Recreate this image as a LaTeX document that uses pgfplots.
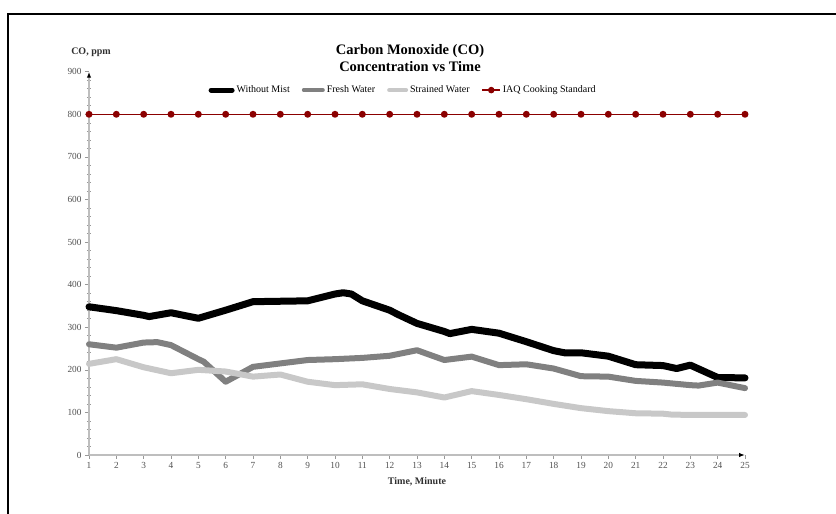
\documentclass[border=0pt]{standalone}
\usepackage{fontspec}
\setmainfont{Liberation Serif}
\usepackage{pgfplots}
\pgfplotsset{compat=1.18}
\usetikzlibrary{arrows.meta}
\definecolor{iaqred}{RGB}{139,0,0}
\definecolor{freshgray}{RGB}{128,128,128}
\definecolor{strainedgray}{RGB}{200,200,200}
\definecolor{axisgray}{RGB}{190,190,190}
\definecolor{labelgray}{RGB}{80,80,80}
\begin{document}
\begin{tikzpicture}
\useasboundingbox (0pt,0pt) rectangle (836pt,514pt);
\draw[line width=2pt] (8pt,-20pt) -- (8pt,500pt) -- (900pt,500pt);
\begin{axis}[
  at={(89pt,59pt)}, anchor=south west,
  scale only axis, width=656pt, height=383.3pt,
  xmin=1, xmax=25, ymin=0, ymax=900,
  axis lines=left,
  axis line style={draw=axisgray, line width=1.2pt, -{Latex[length=6pt,width=4.5pt,color=black]}},
  xtick={1,...,25}, ytick={0,100,...,900},
  minor y tick num=4,
  tick style={draw=axisgray!80!black, line width=0.6pt},
  major tick length=4pt, minor tick length=4pt,
  minor y tick style={xshift=2pt},
  tick align=outside,
  ticklabel style={font=\fontsize{9.3}{10}\selectfont, text=labelgray},
  /pgf/number format/assume math mode=true,
  clip=false,
  legend columns=4,
  legend style={draw=none, fill=none, at={(0.182,0.952)}, anchor=west,
    font=\fontsize{10}{12}\selectfont, inner sep=0pt,
    /tikz/every even column/.append style={column sep=10pt}},
  legend cell align=left,
  line join=round,
]
\addplot[black, line width=7pt, line cap=round, legend image code/.code={\draw[black, line width=5pt, line cap=round] (2pt,0pt) -- (23pt,0pt);}] coordinates {
(1,348)(2,339)(3,328)(3.2,325)(4,334)(5,321)(6,340)(7,360)(8,361)(9,362)(10,378)(10.3,381)(10.6,378)(11,362)(12,340)(12.3,330)(13,309)(14,290)(14.2,285)(15,295)(16,286)(17,266)(18,245)(18.4,240)(19,240)(20,232)(21,212)(22,210)(22.5,203)(23,211)(24,182)(25,181)
};
\addlegendentry{Without Mist}
\addplot[freshgray, line width=6pt, line cap=round, legend image code/.code={\draw[freshgray, line width=4pt, line cap=round] (2pt,0pt) -- (21pt,0pt);}] coordinates {
(1,260)(2,252)(3,264)(3.5,265)(4,258)(5,225)(5.2,219)(6,172)(7,207)(8,215)(9,223)(10,225)(11,228)(12,233)(13,246)(14,223)(15,231)(16,211)(17,213)(18,203)(19,185)(20,184)(21,174)(22,170)(23,164)(23.3,163)(24,170)(25,157)
};
\addlegendentry{Fresh Water}
\addplot[strainedgray, line width=6pt, line cap=round, legend image code/.code={\draw[strainedgray, line width=4pt, line cap=round] (2pt,0pt) -- (19pt,0pt);}] coordinates {
(1,214)(2,225)(3,206)(4,192)(5,200)(6,196)(7,184)(8,189)(9,172)(10,164)(11,166)(12,155)(13,147)(14,135)(15,150)(16,141)(17,131)(18,120)(19,110)(20,103)(21,98)(22,97)(22.3,95)(23,94)(24,94)(25,94)
};
\addlegendentry{Strained Water}
\addplot[iaqred, line width=1.3pt, mark=*, mark size=2.8pt, mark options={fill=iaqred, draw=iaqred},
  legend image code/.code={\draw[iaqred, line width=1.3pt] (0pt,0pt) -- (18pt,0pt); \fill[iaqred] (9pt,0pt) circle (2.6pt);}] coordinates {
(1,800)(2,800)(3,800)(4,800)(5,800)(6,800)(7,800)(8,800)(9,800)(10,800)(11,800)(12,800)(13,800)(14,800)(15,800)(16,800)(17,800)(18,800)(19,800)(20,800)(21,800)(22,800)(23,800)(24,800)(25,800)
};
\addlegendentry{IAQ Cooking Standard}
\end{axis}
\node[font=\bfseries\fontsize{14.5}{17}\selectfont, align=center] at (410pt,455.5pt) {Carbon Monoxide (CO)\\Concentration vs Time};
\node[font=\bfseries\fontsize{10}{12}\selectfont, text=labelgray!60!black] at (91pt,461.3pt) {CO, ppm};
\node[font=\bfseries\fontsize{10}{12}\selectfont, text=labelgray!60!black] at (417pt,32pt) {Time, Minute};
\end{tikzpicture}
\end{document}
